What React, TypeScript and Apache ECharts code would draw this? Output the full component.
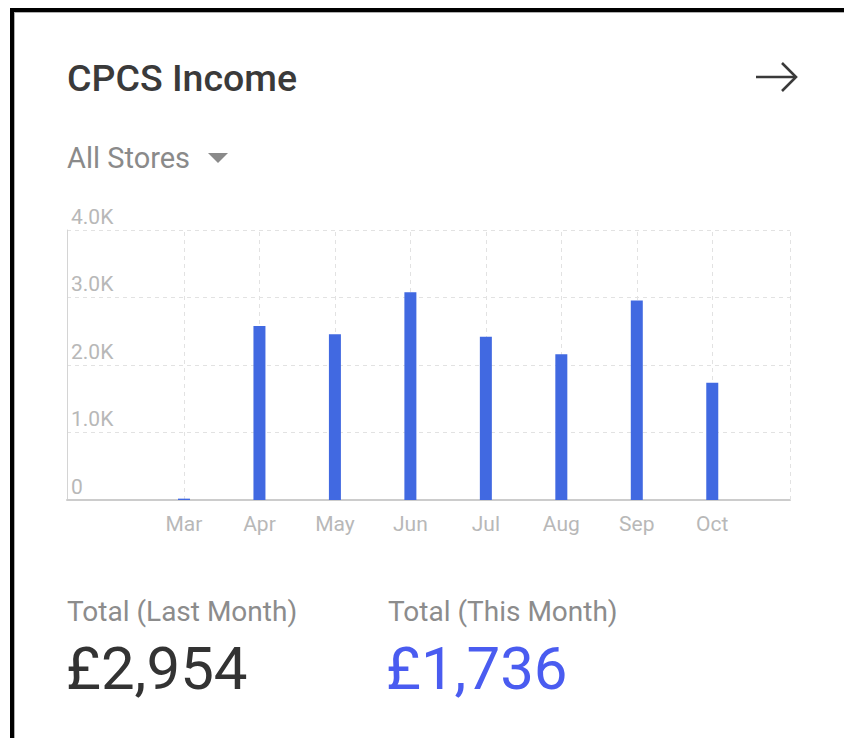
import React, { useEffect, useRef } from 'react';
import * as echarts from 'echarts';

// Data
const months = ['Mar', 'Apr', 'May', 'Jun', 'Jul', 'Aug', 'Sep', 'Oct'];
const monthNumbers = [3, 4, 5, 6, 7, 8, 9, 10];
const income = [20, 2578, 2454, 3077, 2420, 2158, 2954, 1736];
const yTickValues = [0, 1000, 2000, 3000, 4000];
const yTickLabels = ['0', '1.0K', '2.0K', '3.0K', '4.0K'];
const titleText = 'CPCS Income';
const storeText = 'All Stores';
const lastMonthLabel = 'Total (Last Month)';
const thisMonthLabel = 'Total (This Month)';

const X_MIN = 1.45;
const X_MAX = 11.03;
const FONT = 'Roboto, "Noto Sans", sans-serif';

const fmtGBP = (v: number) => '£' + v.toLocaleString('en-GB');

export default function App() {
  const ref = useRef<HTMLDivElement>(null);

  useEffect(() => {
    const chart = echarts.init(ref.current!, null, { renderer: 'svg' });
    const lastMonth = income[income.length - 2];
    const thisMonth = income[income.length - 1];

    chart.setOption({
      animation: false,
      grid: { left: 67, top: 230, right: 54, bottom: 238, containLabel: false },
      xAxis: {
        type: 'value',
        min: X_MIN,
        max: X_MAX,
        axisLine: { show: true, lineStyle: { color: '#cccccc', width: 2 } },
        axisTick: { show: false },
        splitLine: { show: false },
        axisLabel: {
          customValues: monthNumbers,
          margin: 13,
          color: '#b8b8b8',
          fontSize: 21,
          fontFamily: FONT,
          formatter: (v: number) => {
            const i = monthNumbers.indexOf(Math.round(v));
            return i >= 0 && Math.abs(v - monthNumbers[i]) < 1e-6 ? months[i] : '';
          },
        },
      },
      yAxis: {
        type: 'value',
        min: 0,
        max: 4000,
        interval: 1000,
        axisLine: { show: true, lineStyle: { color: '#d4d4d4', width: 1 } },
        axisTick: { show: false },
        splitLine: { show: true, lineStyle: { color: '#e2e2e2', type: [4, 4], width: 1 } },
        axisLabel: {
          inside: true,
          margin: 4,
          verticalAlign: 'bottom',
          padding: [0, 0, 3, 0],
          color: '#b8b8b8',
          fontSize: 21,
          fontFamily: FONT,
          formatter: (v: number) => {
            const i = yTickValues.indexOf(v);
            return i >= 0 ? yTickLabels[i] : '';
          },
        },
      },
      series: [
        {
          type: 'bar',
          z: 3,
          barWidth: 12,
          itemStyle: { color: '#4169e1' },
          data: monthNumbers.map((m, i) => [m, income[i]]),
          markLine: {
            z: 1,
            silent: true,
            symbol: ['none', 'none'],
            label: { show: false },
            lineStyle: { color: '#e2e2e2', type: [4, 4], width: 1 },
            data: [...monthNumbers.map((m) => ({ xAxis: m })), { xAxis: X_MAX }],
          },
        },
      ],
      graphic: [
        // frame
        { type: 'rect', shape: { x: 10, y: 8, width: 834, height: 4 }, style: { fill: '#000' } },
        { type: 'rect', shape: { x: 10, y: 8, width: 4, height: 730 }, style: { fill: '#000' } },
        { type: 'rect', shape: { x: 14, y: 12, width: 830, height: 1 }, style: { fill: '#b0b0b0' } },
        { type: 'rect', shape: { x: 14, y: 12, width: 1, height: 726 }, style: { fill: '#b0b0b0' } },
        // title
        {
          type: 'text',
          x: 67,
          y: 78,
          style: { text: titleText, fill: '#3a3a3a', font: `500 37.5px ${FONT}`, textAlign: 'left', textVerticalAlign: 'middle' },
        },
        // arrow
        { type: 'line', shape: { x1: 756, y1: 77, x2: 795, y2: 77 }, style: { stroke: '#3a3a3a', lineWidth: 2.6 } },
        {
          type: 'polyline',
          shape: { points: [[782, 63], [796, 77], [782, 91]] },
          style: { stroke: '#3a3a3a', lineWidth: 2.6, fill: 'none' },
        },
        // store selector
        {
          type: 'text',
          x: 67,
          y: 158,
          style: { text: storeText, fill: '#8a8a8a', font: `normal 29px ${FONT}`, textAlign: 'left', textVerticalAlign: 'middle' },
        },
        {
          type: 'polygon',
          shape: { points: [[208, 153], [228, 153], [218, 163]] },
          style: { fill: '#8a8a8a' },
        },
        // totals
        {
          type: 'text',
          x: 67,
          y: 611,
          style: { text: lastMonthLabel, fill: '#8c8c8c', font: `normal 28px ${FONT}`, textAlign: 'left', textVerticalAlign: 'middle' },
        },
        {
          type: 'text',
          x: 388,
          y: 611,
          style: { text: thisMonthLabel, fill: '#8c8c8c', font: `normal 28px ${FONT}`, textAlign: 'left', textVerticalAlign: 'middle' },
        },
        {
          type: 'text',
          x: 66,
          y: 668,
          style: { text: fmtGBP(lastMonth), fill: '#333333', font: `normal 60px ${FONT}`, textAlign: 'left', textVerticalAlign: 'middle' },
        },
        {
          type: 'text',
          x: 386,
          y: 668,
          style: { text: fmtGBP(thisMonth), fill: '#4a5cf0', font: `normal 60px ${FONT}`, textAlign: 'left', textVerticalAlign: 'middle' },
        },
      ],
    });

    return () => chart.dispose();
  }, []);

  return (
    <div
      ref={ref}
      style={{ position: 'absolute', left: 0, top: 0, width: 844, height: 738, background: '#ffffff' }}
    />
  );
}
